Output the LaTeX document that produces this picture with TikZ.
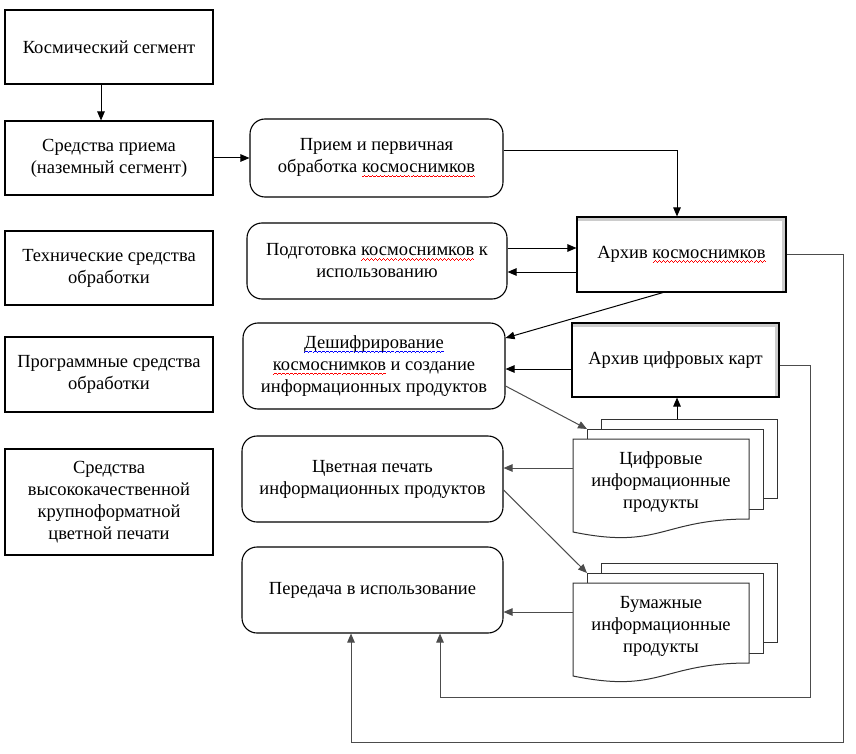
\documentclass[tikz,border=0pt]{standalone}
\usepackage{fontspec}
\setmainfont{Liberation Serif}
\usetikzlibrary{arrows.meta,calc}

% spell-check waves under a word
\newsavebox\wavebox
\newcommand\wavepat{\hbox{\rule[-4.6pt]{1pt}{0.9pt}\rule[-3.8pt]{1pt}{0.9pt}\rule[-3pt]{1pt}{0.9pt}\rule[-3.8pt]{1pt}{0.9pt}}}
\newcommand\redwave[1]{\sbox\wavebox{#1}\rlap{\usebox\wavebox}{\color{red}\hbox to\wd\wavebox{\xleaders\wavepat\hfill}}}
\newcommand\bluewave[1]{\sbox\wavebox{#1}\rlap{\usebox\wavebox}{\color{blue}\hbox to\wd\wavebox{\xleaders\wavepat\hfill}}}

% name, left, top, text
\newcommand\multidoc[4]{%
  \draw[doc] (#2+28,#3-20) rectangle (#2+204,#3+59);
  \draw[doc] (#2+14,#3-10) rectangle (#2+190,#3+70);
  \draw[doc] (#2,#3) -- (#2+176,#3) -- (#2+176,#3+80) .. controls (#2+88,#3+80) and (#2+88,#3+111) .. (#2,#3+93) -- cycle;
  \node[doctext] (#1) at (#2+88,#3+43) {#4};
  \coordinate (#1-top) at (#2+104,#3-20);
  \coordinate (#1-corner) at (#2+14,#3-10);
  \coordinate (#1-left) at (#2,#3+29);
}

\begin{document}
\begin{tikzpicture}[x=1pt,y=-1pt,
    txt/.style={font=\fontsize{18.5}{22}\selectfont,align=center,inner sep=0pt},
    box/.style={txt,draw,line width=1.1pt,minimum width=208pt,minimum height=74pt},
    rbox/.style={txt,draw,line width=1.1pt,rounded corners=15pt,minimum height=86pt},
    archbox/.style={box,path picture={
        \fill[gray!40] (path picture bounding box.north west) rectangle ([yshift=-4pt]path picture bounding box.north east);
        \fill[gray!40] ([xshift=-4pt]path picture bounding box.north east) rectangle (path picture bounding box.south east);}},
    doc/.style={draw=black!80,line width=1pt,fill=white},
    doctext/.style={txt},
    arr/.style={line width=1pt,-{Triangle[length=9pt,width=7.5pt]}},
    garr/.style={arr,draw=black!70}]
  \useasboundingbox (0,0) rectangle (856,754);

  % left column
  \node[box] (cosm) at (109,47) {Космический сегмент};
  \node[box] (recv) at (109,158) {Средства приема\\(наземный сегмент)};
  \node[box] (tech) at (109,268) {Технические средства\\обработки};
  \node[box,minimum height=75pt] (soft) at (109,374.5) {Программные средства\\обработки};
  \node[box,minimum height=106pt] (prnt) at (109,502) {Средства\\высококачественной\\крупноформатной\\цветной печати};

  % middle column
  \node[rbox,minimum width=253pt,minimum height=78pt] (recvproc) at (376.5,158) {Прием и первичная\\обработка \redwave{космоснимков}};
  \node[rbox,minimum width=260pt,minimum height=76pt] (prep) at (377,261) {Подготовка \redwave{космоснимков} к\\использованию};
  \node[rbox,minimum width=262pt] (decode) at (374,366) {\bluewave{Дешифрирование}\\\redwave{космоснимков} и создание\\информационных продуктов};
  \node[rbox,minimum width=261pt] (cprint) at (372.5,479) {Цветная печать\\информационных продуктов};
  \node[rbox,minimum width=261pt] (transfer) at (372.5,590) {Передача в использование};

  % right column
  \node[archbox,minimum width=209pt,minimum height=75pt] (archive) at (681.5,254.5) {Архив \redwave{космоснимков}};
  \node[archbox,minimum width=207pt] (maps) at (675.5,360) {Архив цифровых карт};
  \multidoc{digi}{573}{439}{Цифровые\\информационные\\продукты}
  \multidoc{paper}{573}{583}{Бумажные\\информационные\\продукты}

  % connectors
  \draw[arr] ([xshift=-8pt]cosm.south) -- ([xshift=-8pt]recv.north);
  \draw[arr] (recv) -- (recvproc);
  \draw[arr] ([yshift=7pt]recvproc.east) -| ([xshift=-4.5pt]archive.north);
  \draw[arr] ([yshift=13pt]prep.east) -- ([yshift=13pt]prep.east -| archive.west);
  \draw[arr] ([yshift=-11pt]prep.east -| archive.west) -- ([yshift=-11pt]prep.east);
  \draw[arr] ([xshift=-18.5pt]archive.south) -- ([yshift=28pt]decode.east);
  \draw[arr] ([yshift=-9pt]maps.west) -- ([yshift=-9pt]maps.west -| decode.east);
  \draw[garr] ([yshift=-20pt]decode.east) -- (digi-corner);
  \draw[arr] (digi-top) -- (digi-top |- maps.south);
  \draw[garr] (digi-left) -- (digi-left -| cprint.east);
  \draw[garr] ([yshift=-11pt]cprint.east) -- (paper-corner);
  \draw[garr] (paper-left) -- (paper-left -| transfer.east);
  \coordinate (loopout) at (843,742);
  \coordinate (loopin) at (810,697);
  \draw[garr] (archive.east) -| (loopout) -| ([xshift=-21.5pt]transfer.south);
  \draw[garr] ([yshift=-5pt]maps.east) -| (loopin) -| ([xshift=67.5pt]transfer.south);
\end{tikzpicture}
\end{document}
